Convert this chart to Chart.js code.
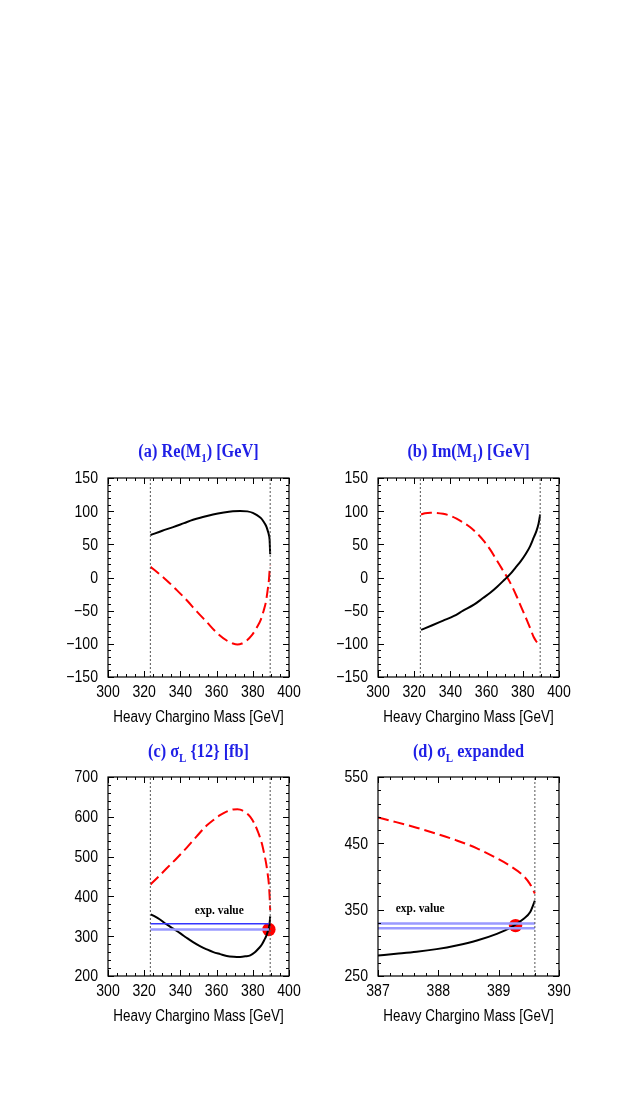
<!DOCTYPE html>
<html><head><meta charset="utf-8">
<script src="https://cdn.jsdelivr.net/npm/chart.js@4.4.0/dist/chart.umd.min.js"></script>
<style>
html,body{margin:0;padding:0;background:#fff;width:638px;height:1100px;overflow:hidden;}
canvas{position:absolute;}
</style></head><body>
<canvas id="ca" width="310" height="310" style="left:0px;top:430px;width:310px;height:310px"></canvas>
<canvas id="cb" width="310" height="310" style="left:270px;top:430px;width:310px;height:310px"></canvas>
<canvas id="cc" width="310" height="310" style="left:0px;top:729px;width:310px;height:310px"></canvas>
<canvas id="cd" width="310" height="310" style="left:270px;top:729px;width:310px;height:310px"></canvas>
<script>
// ---------------- data ----------------
const massLow = 323.4;
const massHigh = 389.6;

// tick labels
const xTicksMain = [300, 320, 340, 360, 380, 400];
const yTicksM1 = [-150, -100, -50, 0, 50, 100, 150];
const yTicksSigma = [200, 300, 400, 500, 600, 700];
const xTicksZoom = [387, 388, 389, 390];
const yTicksZoom = [250, 350, 450, 550];

// (a) Re(M1)
const reBlackMass = [323.5, 330, 336, 342, 347, 353, 358, 364, 369, 373, 377, 380, 382.3, 384.5, 386, 387.3, 388.2, 388.9, 389.3, 389.6];
const reBlackVal  = [64, 70.5, 76, 82, 87, 91.5, 95, 98, 99.8, 100.3, 99.7, 97.5, 94, 89.5, 84, 78, 71, 64, 56, 35];
const reRedMass = [323.5, 328, 332.3, 338, 343.4, 349, 354.5, 360, 365.6, 369, 371.5, 374, 376.7, 379.5, 382.3, 384.5, 386, 387.3, 388.2, 388.9, 389.3, 389.6];
const reRedVal  = [16, 6, -4, -19, -34, -51, -67, -83, -95, -99.5, -101, -99.5, -95, -87, -75, -63, -50, -36, -19, -4, 11, 18];

// (b) Im(M1)
const imBlackMass = [323.8, 330, 336, 342, 347, 353, 358, 362, 366, 370, 373, 376, 379, 381.5, 384, 386, 387.5, 388.7, 389.6];
const imBlackVal  = [-79, -72, -65, -58, -50, -41, -31, -23, -13.5, -3, 5, 15, 25, 35, 47, 60, 70, 81, 95];
const imRedMass = [323.8, 326, 329, 332, 336, 340, 343.4, 347, 350.8, 354.5, 358.2, 362, 365.6, 368.5, 371.2, 374, 376.7, 379.5, 382.3, 384.3, 386, 387.5, 388.7, 389.6];
const imRedVal  = [95, 96.8, 97.7, 97.5, 96, 93, 88.7, 83, 76, 67, 56, 42, 26, 13, 1, -13, -29, -47, -64.6, -78, -89.7, -96.5, -100.7, -102];

// (c) sigma_L{12}
const sgRedMass = [323.5, 328, 332.3, 338, 343.4, 349, 354.5, 358.5, 361.9, 365.5, 369.3, 371.5, 373, 376, 378.6, 381, 383.2, 385, 386.3, 387.4, 388.2, 388.9, 389.3, 389.6];
const sgRedVal  = [430, 450, 470, 496, 522, 551, 578, 593, 604, 613, 618.5, 619, 618, 611, 600, 582, 558, 533, 507, 482, 457, 430, 399, 365];
const sgBlackMass = [323.7, 328.7, 332, 336, 340, 343.4, 347, 350.8, 354.5, 358.2, 362, 365.6, 369.5, 373, 376, 378.6, 381, 383.2, 385, 386.3, 387.4, 388.2, 388.9, 389.3, 389.6];
const sgBlackVal  = [355, 342, 331, 319, 307, 296, 285, 275, 267, 260, 255, 250.5, 248.5, 248, 249.5, 252, 259, 269, 279, 290, 300, 311, 321, 332, 350];
const expBandC = [331, 317];
const expPointC = [388.9, 317];

// (d) sigma_L expanded
const zRedMass = [387, 387.3, 387.64, 387.97, 388.3, 388.64, 388.97, 389.19, 389.41, 389.52, 389.6];
const zRedVal  = [489, 482, 473.5, 464.5, 454.5, 442.5, 427.5, 416, 401, 388.5, 374.5];
const zBlackMass = [387, 387.3, 387.64, 387.97, 388.3, 388.64, 388.97, 389.19, 389.41, 389.52, 389.6];
const zBlackVal  = [281, 283.5, 286.5, 290.5, 296, 303.5, 313.5, 322.5, 336, 346, 363.5];
const expBandD = [329, 322];
const expPointD = [389.28, 326];

// ---------------- helpers ----------------
const zip = (xs, ys) => xs.map((x, i) => ({x: x, y: ys[i]}));
const SANS = "'Liberation Sans', Arial, sans-serif";
const SERIF = "'Liberation Serif', 'Times New Roman', serif";
const SQUEEZE = 0.88;            // the original figure is horizontally condensed
const TITLE_BLUE = '#1f1fe6';

function curve(xs, ys, color, dashed) {
  return {data: zip(xs, ys), showLine: true, borderColor: color, borderWidth: 2,
    borderDash: dashed ? [11, 5] : [], pointRadius: 0, cubicInterpolationMode: 'monotone', fill: false};
}
function vline(x, y0, y1) {
  return {data: [{x: x, y: y0}, {x: x, y: y1}], showLine: true, borderColor: '#555', borderWidth: 1,
    borderDash: [2, 2], pointRadius: 0, tension: 0};
}
function hline(x0, x1, y, color, w) {
  return {data: [{x: x0, y: y}, {x: x1, y: y}], showLine: true, borderColor: color, borderWidth: w,
    pointRadius: 0, tension: 0};
}
function dot(p) {
  return {data: [{x: p[0], y: p[1]}], showLine: false, pointRadius: 6.7, pointHoverRadius: 6.7,
    backgroundColor: '#ff0000', borderColor: '#ff0000', borderWidth: 0};
}
function sText(ctx, text, x, y, font, align, baseline, color, sq) {
  ctx.save();
  ctx.font = font; ctx.textAlign = align; ctx.textBaseline = baseline; ctx.fillStyle = color || '#000';
  ctx.translate(x, y); ctx.scale(sq || SQUEEZE, 1);
  ctx.fillText(text, 0, 0);
  ctx.restore();
}
const fmt = v => (v < 0 ? '\u2212' + Math.abs(v) : String(v));

const panelPlugin = {
  id: 'panel',
  afterDatasetsDraw(chart, args, o) {
    const ctx = chart.ctx, a = chart.chartArea, xs = chart.scales.x, ys = chart.scales.y;
    ctx.save();
    // frame
    ctx.strokeStyle = '#000'; ctx.lineWidth = 1.2; ctx.setLineDash([]);
    ctx.strokeRect(a.left, a.top, a.right - a.left, a.bottom - a.top);
    ctx.lineWidth = 1;
    const n = Math.round((xs.max - xs.min) / o.xMinor);
    for (let i = 0; i <= n; i++) {
      const v = xs.min + i * o.xMinor;
      const px = Math.round(xs.getPixelForValue(v)) + 0.5;
      const major = xs.ticks.some(t => Math.abs(t.value - v) < 1e-6);
      const L = major ? 6 : 3;
      ctx.beginPath();
      ctx.moveTo(px, a.bottom); ctx.lineTo(px, a.bottom - L);
      ctx.moveTo(px, a.top); ctx.lineTo(px, a.top + L);
      ctx.stroke();
    }
    const m = Math.round((ys.max - ys.min) / o.yMinor);
    for (let i = 0; i <= m; i++) {
      const v = ys.min + i * o.yMinor;
      const py = Math.round(ys.getPixelForValue(v)) + 0.5;
      const major = ys.ticks.some(t => Math.abs(t.value - v) < 1e-6);
      const L = major ? 6 : 3;
      ctx.beginPath();
      ctx.moveTo(a.left, py); ctx.lineTo(a.left + L, py);
      ctx.moveTo(a.right, py); ctx.lineTo(a.right - L, py);
      ctx.stroke();
    }
    // tick labels (from the library's scales)
    const tf = '16px ' + SANS;
    xs.ticks.forEach(t => sText(ctx, fmt(t.value), xs.getPixelForValue(t.value), a.bottom + 16, tf, 'center', 'middle'));
    ys.ticks.forEach(t => sText(ctx, fmt(t.value), a.left - 10, ys.getPixelForValue(t.value) + 1, tf, 'right', 'middle'));
    // axis title
    sText(ctx, o.xTitle, (a.left + a.right) / 2, a.bottom + 41, '16px ' + SANS, 'center', 'middle', '#000', 0.84);
    // annotation texts
    (o.notes || []).forEach(nt => sText(ctx, nt.text, xs.getPixelForValue(nt.x), ys.getPixelForValue(nt.y),
      'bold 13px ' + SERIF, 'center', 'middle'));
    // title with subscript
    const parts = o.title;
    const mainF = 'bold 18.5px ' + SERIF;
    const subF = 'bold 12.5px ' + SERIF;
    let total = 0;
    parts.forEach(p => { ctx.font = p[1] ? subF : mainF; total += ctx.measureText(p[0]).width * SQUEEZE; });
    let x = (a.left + a.right) / 2 - total / 2;
    parts.forEach(p => {
      const f = p[1] ? subF : mainF;
      sText(ctx, p[0], x, o.titleY + (p[1] ? 5 : 0), f, 'left', 'alphabetic', TITLE_BLUE);
      ctx.font = f;
      x += ctx.measureText(p[0]).width * SQUEEZE;
    });
    ctx.restore();
  }
};

function makeChart(id, spec) {
  new Chart(document.getElementById(id), {
    type: 'scatter',
    data: {datasets: spec.datasets},
    plugins: [panelPlugin],
    options: {
      responsive: false, animation: false, devicePixelRatio: 1,
      layout: {autoPadding: false, padding: {left: 0, right: 21, top: 48, bottom: 13}},
      plugins: {legend: {display: false}, tooltip: {enabled: false},
        panel: {xMinor: spec.xMinor, yMinor: spec.yMinor, xTitle: 'Heavy Chargino Mass [GeV]',
                title: spec.title, titleY: spec.titleY, notes: spec.notes}},
      scales: {
        x: {type: 'linear', position: 'bottom', min: spec.xTicks[0], max: spec.xTicks[spec.xTicks.length - 1],
          afterBuildTicks: s => { s.ticks = spec.xTicks.map(v => ({value: v})); },
          afterFit: s => { s.height = 50; s.paddingLeft = 0; s.paddingRight = 0; },
          grid: {display: false, drawTicks: false}, border: {display: false},
          ticks: {display: false}},
        y: {type: 'linear', position: 'left', min: spec.yTicks[0], max: spec.yTicks[spec.yTicks.length - 1],
          afterBuildTicks: s => { s.ticks = spec.yTicks.map(v => ({value: v})); },
          afterFit: s => { s.width = 108; s.paddingTop = 0; s.paddingBottom = 0; },
          grid: {display: false, drawTicks: false}, border: {display: false},
          ticks: {display: false}}
      }
    }
  });
}

makeChart('ca', {
  xTicks: xTicksMain, yTicks: yTicksM1, xMinor: 5, yMinor: 10, titleY: 27,
  title: [['(a) Re(M', false], ['1', true], [') [GeV]', false]],
  datasets: [vline(massLow, -150, 150), vline(massHigh, -150, 150),
    curve(reBlackMass, reBlackVal, '#000000', false), curve(reRedMass, reRedVal, '#ff0000', true)]
});
makeChart('cb', {
  xTicks: xTicksMain, yTicks: yTicksM1, xMinor: 5, yMinor: 10, titleY: 27,
  title: [['(b) Im(M', false], ['1', true], [') [GeV]', false]],
  datasets: [vline(massLow, -150, 150), vline(massHigh, -150, 150),
    curve(imBlackMass, imBlackVal, '#000000', false), curve(imRedMass, imRedVal, '#ff0000', true)]
});
makeChart('cc', {
  xTicks: xTicksMain, yTicks: yTicksSigma, xMinor: 5, yMinor: 20, titleY: 28,
  title: [['(c) \u03c3', false], ['L', true], [' {12} [fb]', false]],
  notes: [{x: 361.5, y: 363, text: 'exp. value'}],
  datasets: [vline(massLow, 200, 700), vline(massHigh, 200, 700),
    hline(massLow, expPointC[0], expBandC[0], '#3535ff', 1.5),
    hline(massLow, expPointC[0], expBandC[1], '#9a9aff', 2.5),
    curve(sgBlackMass, sgBlackVal, '#000000', false), curve(sgRedMass, sgRedVal, '#ff0000', true),
    dot(expPointC)]
});
makeChart('cd', {
  xTicks: xTicksZoom, yTicks: yTicksZoom, xMinor: 0.2, yMinor: 20, titleY: 28,
  title: [['(d) \u03c3', false], ['L', true], [' expanded', false]],
  notes: [{x: 387.7, y: 352, text: 'exp. value'}],
  datasets: [vline(massHigh, 250, 550),
    hline(387, massHigh, expBandD[0], '#9a9aff', 2.5),
    hline(387, massHigh, expBandD[1], '#9a9aff', 2.5),
    curve(zBlackMass, zBlackVal, '#000000', false), curve(zRedMass, zRedVal, '#ff0000', true),
    dot(expPointD)]
});
</script>
</body></html>
